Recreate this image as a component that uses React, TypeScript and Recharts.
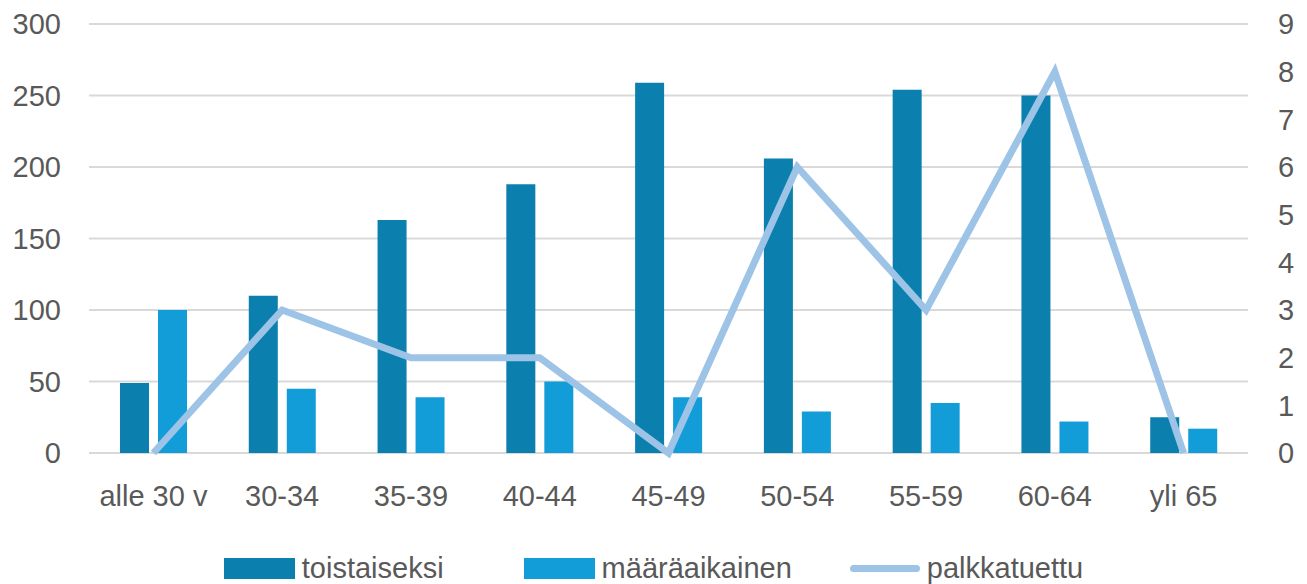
import {
  Bar,
  CartesianGrid,
  ComposedChart,
  Legend,
  Line,
  XAxis,
  YAxis,
} from "recharts";

const categories = [
  "alle 30 v",
  "30-34",
  "35-39",
  "40-44",
  "45-49",
  "50-54",
  "55-59",
  "60-64",
  "yli 65",
];
const toistaiseksi = [49, 110, 163, 188, 259, 206, 254, 250, 25];
const maaraaikainen = [100, 45, 39, 50, 39, 29, 35, 22, 17];
const palkkatuettu = [0, 3, 2, 2, 0, 6, 3, 8, 0];
const leftTicks = [0, 50, 100, 150, 200, 250, 300];
const rightTicks = [0, 1, 2, 3, 4, 5, 6, 7, 8, 9];

const DARK = "#0b7fae";
const LIGHT = "#139dd8";
const LINE = "#9dc3e6";
const TEXT = "#595959";
const FONT = "'Liberation Sans', Arial, sans-serif";

const data = categories.map((name, i) => ({
  name,
  toistaiseksi: toistaiseksi[i],
  määräaikainen: maaraaikainen[i],
  palkkatuettu: palkkatuettu[i],
}));

// oma selite, Excel-tyylinen
const ChartLegend = () => {
  const items = [
    { label: "toistaiseksi", color: DARK, kind: "rect", gap: 0 },
    { label: "määräaikainen", color: LIGHT, kind: "rect", gap: 80 },
    { label: "palkkatuettu", color: LINE, kind: "line", gap: 58 },
  ];
  return (
    <div
      style={{
        display: "flex",
        justifyContent: "center",
        alignItems: "center",
        height: 32,
        fontFamily: FONT,
        fontSize: 29,
        color: TEXT,
      }}
    >
      {items.map((it) => (
        <div
          key={it.label}
          style={{
            display: "flex",
            alignItems: "center",
            marginLeft: it.gap,
          }}
        >
          {it.kind === "rect" ? (
            <div style={{ width: 71, height: 21, background: it.color }} />
          ) : (
            <div
              style={{
                width: 70,
                height: 7,
                borderRadius: 4,
                background: it.color,
              }}
            />
          )}
          <span style={{ marginLeft: 7 }}>{it.label}</span>
        </div>
      ))}
    </div>
  );
};

export default function App() {
  const tick = { fill: TEXT, fontSize: 29, fontFamily: FONT };
  return (
    <div style={{ position: "absolute", left: 0, top: 0, background: "#fff" }}>
      <ComposedChart
        width={1307}
        height={584}
        data={data}
        margin={{ top: 24, right: 0, bottom: 0, left: 0 }}
        barGap={9}
      >
        <CartesianGrid
          vertical={false}
          stroke="#d9d9d9"
          strokeWidth={2}
          yAxisId="left"
        />
        <XAxis
          dataKey="name"
          axisLine={false}
          tickLine={false}
          tickSize={0}
          tickMargin={32}
          height={99}
          tick={tick}
          interval={0}
        />
        <YAxis
          yAxisId="left"
          orientation="left"
          domain={[0, 300]}
          ticks={leftTicks}
          axisLine={false}
          tickLine={false}
          tickSize={0}
          tickMargin={28}
          width={89}
          tick={tick}
        />
        <YAxis
          yAxisId="right"
          orientation="right"
          domain={[0, 9]}
          ticks={rightTicks}
          axisLine={false}
          tickLine={false}
          tickSize={0}
          tickMargin={30}
          width={59}
          tick={tick}
        />
        <Legend
          verticalAlign="bottom"
          height={32}
          content={() => <ChartLegend />}
        />
        <Bar
          yAxisId="left"
          dataKey="toistaiseksi"
          fill={DARK}
          barSize={29}
          isAnimationActive={false}
        />
        <Bar
          yAxisId="left"
          dataKey="määräaikainen"
          fill={LIGHT}
          barSize={29}
          isAnimationActive={false}
        />
        <Line
          yAxisId="right"
          dataKey="palkkatuettu"
          type="linear"
          stroke={LINE}
          strokeWidth={7}
          dot={false}
          activeDot={false}
          isAnimationActive={false}
        />
      </ComposedChart>
    </div>
  );
}
